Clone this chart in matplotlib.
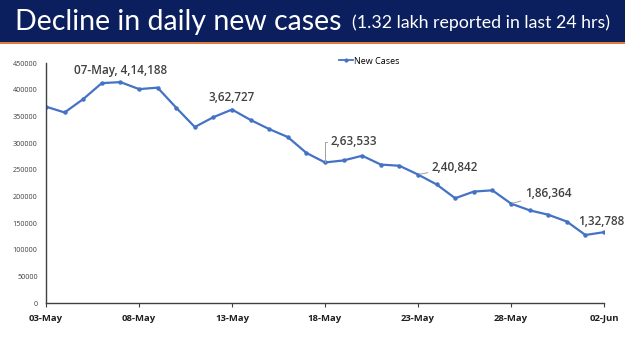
import numpy as np
import matplotlib
matplotlib.use("Agg")
import matplotlib.pyplot as plt
from matplotlib.patches import Rectangle
from matplotlib.lines import Line2D

# data: daily new cases, 03-May .. 02-Jun
dates = ["03-May", "04-May", "05-May", "06-May", "07-May", "08-May", "09-May",
         "10-May", "11-May", "12-May", "13-May", "14-May", "15-May", "16-May",
         "17-May", "18-May", "19-May", "20-May", "21-May", "22-May", "23-May",
         "24-May", "25-May", "26-May", "27-May", "28-May", "29-May", "30-May",
         "31-May", "01-Jun", "02-Jun"]
new_cases = [368147, 357229, 382315, 412262, 414188, 401078, 403738,
             366161, 329942, 348421, 362727, 343144, 326098, 311170,
             281386, 263533, 267334, 276110, 259551, 257299, 240842,
             222315, 196427, 208921, 211298, 186364, 173790, 165553,
             152734, 127510, 132788]
tick_labels = ["03-May", "08-May", "13-May", "18-May", "23-May", "28-May", "02-Jun"]
y_ticks = [0, 50000, 100000, 150000, 200000, 250000, 300000, 350000, 400000, 450000]

# labelled points: (index, text)
callouts = [(4, "07-May, 4,14,188"), (10, "3,62,727"), (15, "2,63,533"),
            (20, "2,40,842"), (25, "1,86,364"), (30, "1,32,788")]

LINE = "#4472c4"
NAVY = "#0b1f5e"
TXT = "#404040"

fig = plt.figure(figsize=(6.25, 3.51), dpi=100)
fig.patch.set_facecolor("white")

# header banner
fig.add_artist(Rectangle((0, 1 - 42 / 351), 1, 42 / 351, transform=fig.transFigure,
                         facecolor=NAVY, edgecolor="none"))
fig.add_artist(Rectangle((0, 1 - 44 / 351), 1, 2 / 351, transform=fig.transFigure,
                         facecolor="#e07b39", edgecolor="none"))
fig.text(15 / 625, 1 - 22 / 351, "Decline in daily new cases", color="white",
         fontsize=20.5, family="Lato", va="center", ha="left")
fig.text(352 / 625, 1 - 23 / 351, "(1.32 lakh reported in last 24 hrs)", color="white",
         fontsize=12.8, family="Lato", va="center", ha="left")

ax = fig.add_axes([46 / 625, 48 / 351, 558 / 625, 240 / 351])
x = np.arange(len(dates))
ax.plot(x, new_cases, color=LINE, lw=1.6, marker="o", ms=2.2, label="New Cases")

ax.set_xlim(0, len(dates) - 1)
ax.set_ylim(0, 450000)
ax.set_yticks(y_ticks)
ax.set_yticklabels([str(v) for v in y_ticks], fontsize=5.2, color=TXT, family="Open Sans")
ax.set_xticks([dates.index(t) for t in tick_labels])
ax.set_xticklabels(tick_labels, fontsize=6.8, fontweight="bold", color="#202020", family="Open Sans")
ax.tick_params(axis="x", length=3, width=0.8, color="#404040", pad=5)
ax.tick_params(axis="y", length=0, pad=6)
for s in ["top", "right"]:
    ax.spines[s].set_visible(False)
for s in ["left", "bottom"]:
    ax.spines[s].set_color("#404040")
    ax.spines[s].set_linewidth(1.0)

# callout labels (offsets in points)
offsets = {4: (0, 8.6), 10: (0, 8.6), 15: (4.3, 15), 20: (10, 5), 25: (10, 7), 30: (-2, 8)}
style = dict(fontsize=8.5, fontweight="semibold", color=TXT, family="Open Sans", va="center")
for i, txt in callouts:
    dx, dy = offsets[i]
    if i == 15:
        ax.annotate(txt, (x[i], new_cases[i]), xytext=(dx, dy), textcoords="offset points",
                    ha="left", **style,
                    arrowprops=dict(arrowstyle="-", color="#a0a0a0", lw=0.7,
                                    connectionstyle="angle,angleA=0,angleB=90,rad=0",
                                    shrinkA=1, shrinkB=0))
    elif i in (20, 25):
        ax.annotate(txt, (x[i], new_cases[i]), xytext=(dx, dy), textcoords="offset points",
                    ha="left", **style,
                    arrowprops=dict(arrowstyle="-", color="#a0a0a0", lw=0.7,
                                    shrinkA=1, shrinkB=1))
    else:
        ax.annotate(txt, (x[i], new_cases[i]), xytext=(dx, dy), textcoords="offset points",
                    ha="center", **style)

handle = Line2D([], [], color=LINE, lw=1.3, marker="o", ms=2)
leg = fig.legend([handle], ["New Cases"], loc="center left",
                 bbox_to_anchor=(334 / 625, 1 - 61 / 351), frameon=False,
                 prop={"family": "Open Sans", "size": 6.5}, handlelength=1.6,
                 handletextpad=0.1, borderpad=0)

fig.savefig("out.png", dpi=100)
